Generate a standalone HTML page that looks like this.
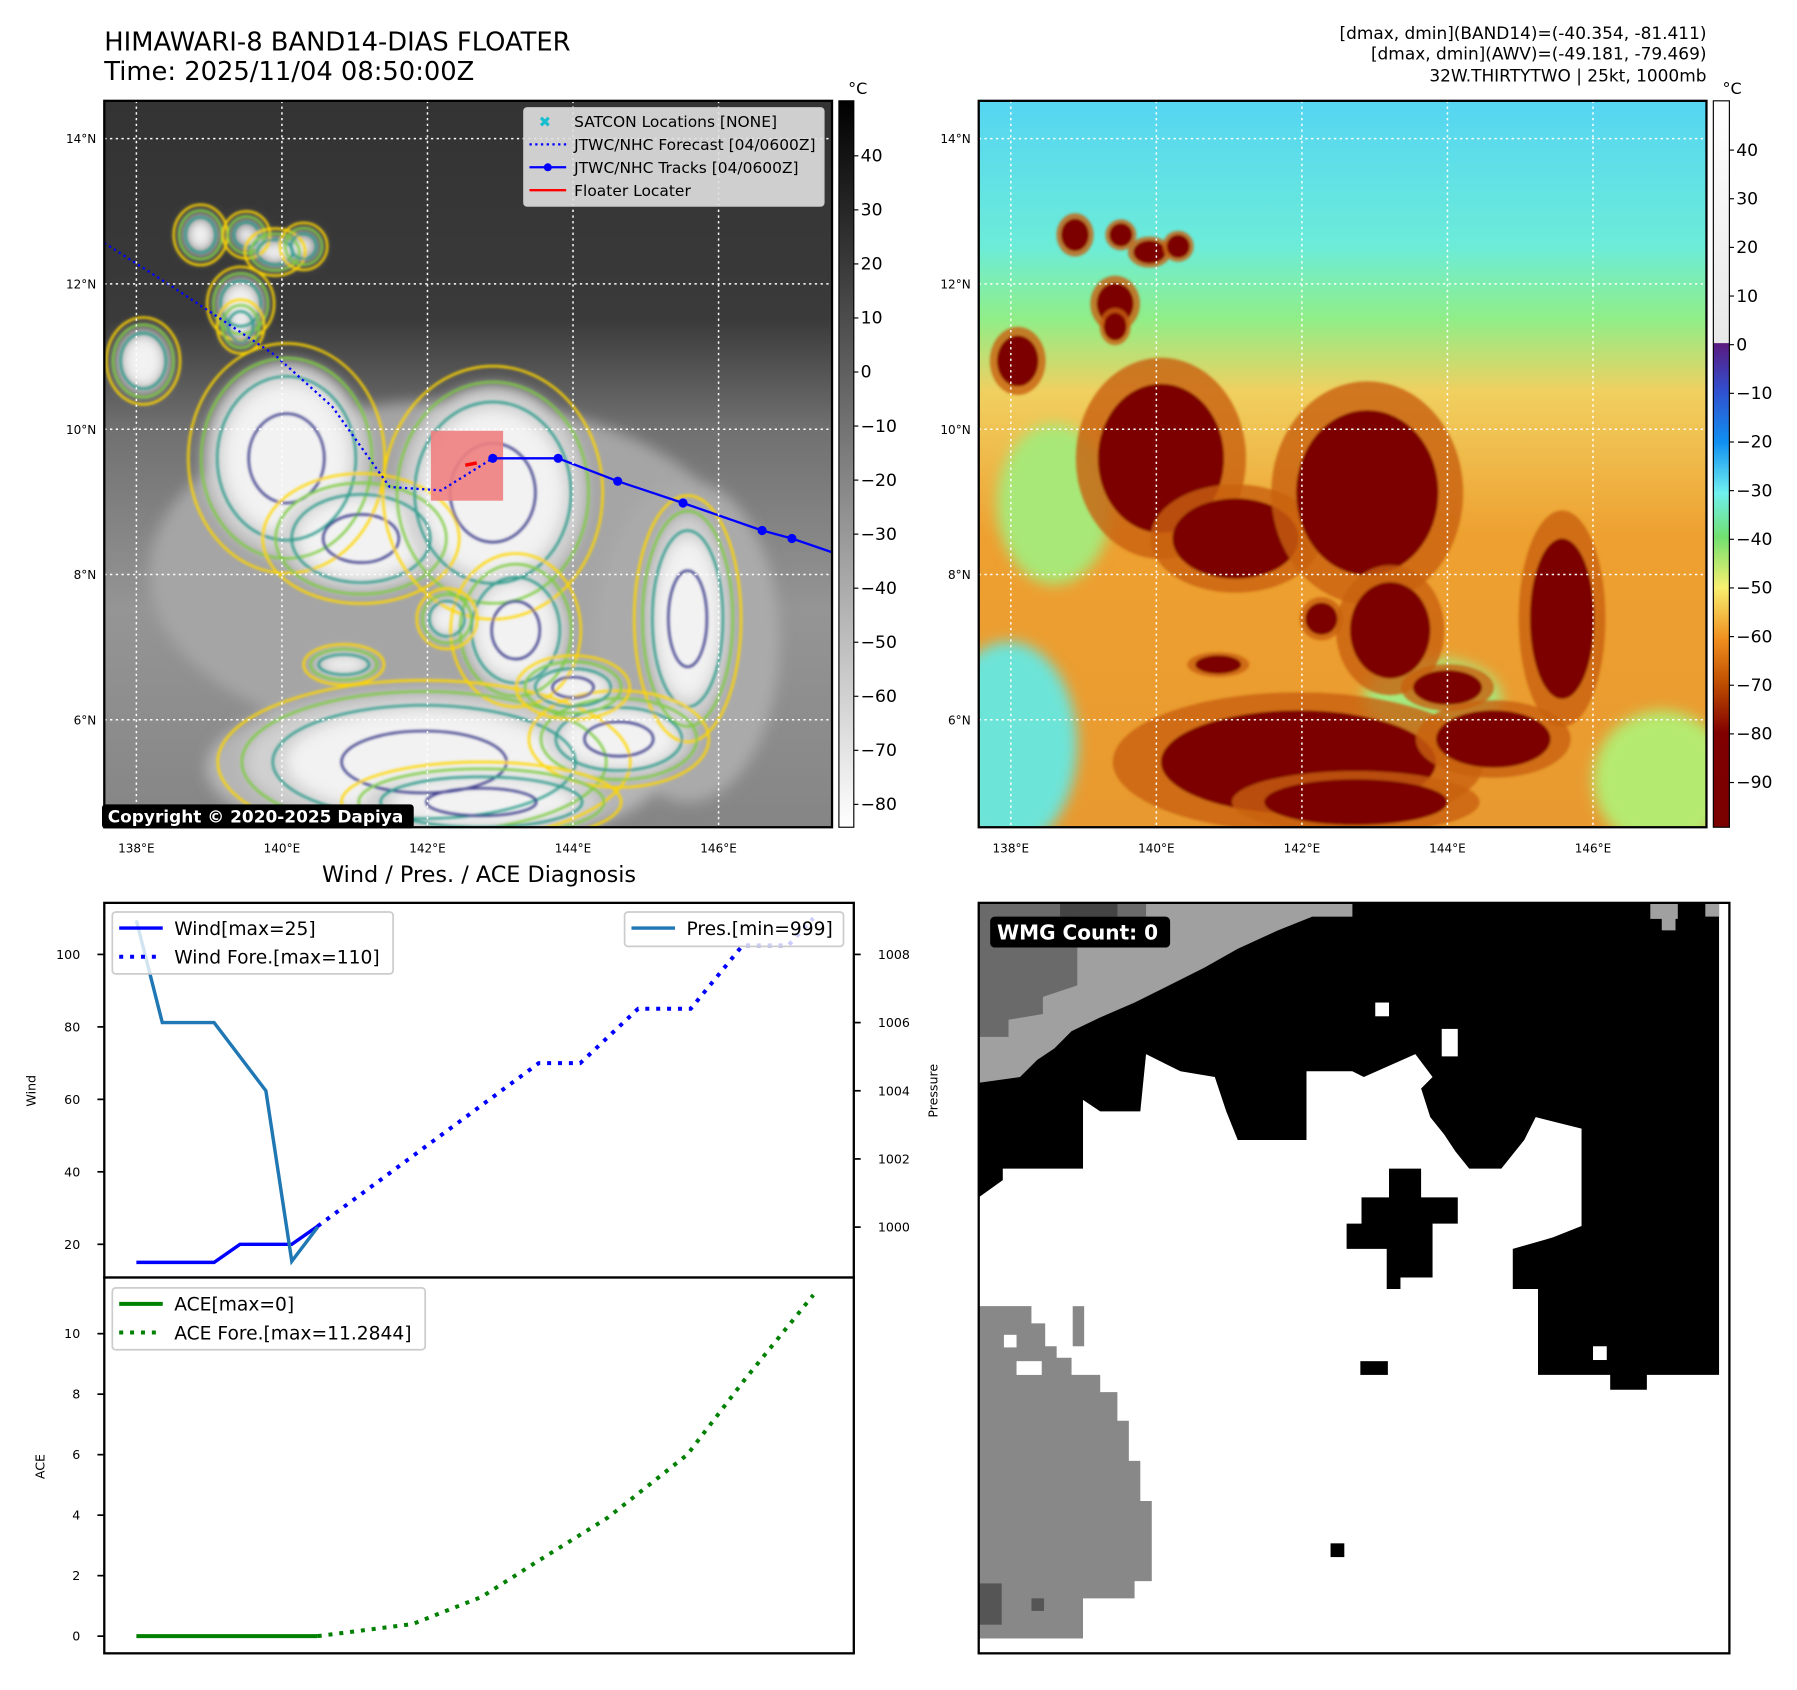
<!DOCTYPE html>
<html><head><meta charset="utf-8"><style>
html,body{margin:0;padding:0;background:#fff}
svg{display:block}
text{font-family:"DejaVu Sans","Liberation Sans",sans-serif}
</style></head><body>
<svg id="fig" width="1797" height="1690" viewBox="0 0 1568 1475" preserveAspectRatio="none" xmlns="http://www.w3.org/2000/svg">
<defs>
<filter id="blur6" x="-50%" y="-50%" width="200%" height="200%"><feGaussianBlur stdDeviation="6"/></filter>
<filter id="blur3" x="-50%" y="-50%" width="200%" height="200%"><feGaussianBlur stdDeviation="1.2"/></filter>
<clipPath id="clipL"><rect x="91" y="88" width="635" height="634"/></clipPath>
<clipPath id="clipR"><rect x="854" y="88" width="635" height="634"/></clipPath>
<linearGradient id="gL" x1="0" y1="0" x2="0" y2="1">
<stop offset="0" stop-color="#333"/><stop offset="0.3" stop-color="#3a3a3a"/><stop offset="0.45" stop-color="#707070"/><stop offset="0.7" stop-color="#959595"/><stop offset="1" stop-color="#858585"/></linearGradient>
<linearGradient id="gR" x1="0" y1="0" x2="0" y2="1">
<stop offset="0" stop-color="#55d5f2"/><stop offset="0.2" stop-color="#6cecd8"/><stop offset="0.3" stop-color="#90ee88"/><stop offset="0.4" stop-color="#f0d060"/><stop offset="0.6" stop-color="#eea030"/><stop offset="1" stop-color="#e89a30"/></linearGradient>
<linearGradient id="cbL" x1="0" y1="0" x2="0" y2="1"><stop offset="0" stop-color="#000"/><stop offset="1" stop-color="#fff"/></linearGradient>
<linearGradient id="cbR" x1="0" y1="0" x2="0" y2="1">
<stop offset="0" stop-color="#fff"/><stop offset="0.333" stop-color="#e8e8e8"/><stop offset="0.334" stop-color="#5a1a80"/><stop offset="0.4" stop-color="#3050d0"/><stop offset="0.47" stop-color="#1090f0"/><stop offset="0.54" stop-color="#70f0f0"/><stop offset="0.6" stop-color="#70e070"/><stop offset="0.67" stop-color="#f8f070"/><stop offset="0.74" stop-color="#f09020"/><stop offset="0.8" stop-color="#c05000"/><stop offset="0.87" stop-color="#800000"/><stop offset="1" stop-color="#7a0000"/></linearGradient>
</defs>

<text x="91" y="44" font-size="22.5">HIMAWARI-8 BAND14-DIAS FLOATER</text>
<text x="91" y="70" font-size="22.5">Time: 2025/11/04 08:50:00Z</text>
<g font-size="14.8" text-anchor="end">
<text x="1489" y="34">[dmax, dmin](BAND14)=(-40.354, -81.411)</text>
<text x="1489" y="52">[dmax, dmin](AWV)=(-49.181, -79.469)</text>
<text x="1489" y="71">32W.THIRTYTWO | 25kt, 1000mb</text>
</g>

<g clip-path="url(#clipL)">
<rect x="91" y="88" width="635" height="634" fill="url(#gL)"/>
<g id="cloudsL" filter="url(#blur6)"></g>
<g id="contoursL" fill="none" filter="url(#blur3)"></g>
<rect x="376" y="376" width="63" height="61" fill="#f08080" opacity="0.9"/>
<polyline points="91,212 150,250 240,310 290,355 340,425 385,428 430,400" fill="none" stroke="#0000ff" stroke-width="2" stroke-dasharray="2,3"/>
<polyline points="430,400 487,400 539,420 596,439 665,463 691,470 726,482" fill="none" stroke="#0000ff" stroke-width="2"/>
<g fill="#0000ff"><circle cx="430" cy="400" r="4"/><circle cx="487" cy="400" r="4"/><circle cx="539" cy="420" r="4"/><circle cx="596" cy="439" r="4"/><circle cx="665" cy="463" r="4"/><circle cx="691" cy="470" r="4"/></g>
<line x1="406" y1="406" x2="416" y2="404" stroke="#f00" stroke-width="3"/>
<g id="gridL" stroke="#fff" stroke-width="1.3" stroke-dasharray="2,3"></g>
</g>
<rect x="91" y="88" width="635" height="634" fill="none" stroke="#000" stroke-width="2"/>
<g>
<rect x="457" y="94" width="262" height="86" rx="3" fill="#e0e0e0" fill-opacity="0.9" stroke="#ccc"/>
<text x="470" y="111" font-size="13" fill="#17becf" font-weight="bold">✖</text>
<line x1="462" y1="126" x2="494" y2="126" stroke="#00f" stroke-width="2" stroke-dasharray="2,3"/>
<line x1="462" y1="146" x2="494" y2="146" stroke="#00f" stroke-width="2"/><circle cx="478" cy="146" r="3.5" fill="#00f"/>
<line x1="462" y1="166" x2="494" y2="166" stroke="#f00" stroke-width="2"/>
<g font-size="13.5"><text x="501" y="111">SATCON Locations [NONE]</text><text x="501" y="131">JTWC/NHC Forecast [04/0600Z]</text><text x="501" y="151">JTWC/NHC Tracks [04/0600Z]</text><text x="501" y="171">Floater Locater</text></g>
</g>
<rect x="89" y="702" width="272" height="21" rx="3" fill="#000"/>
<text x="94" y="718" font-size="14.8" font-weight="bold" fill="#fff">Copyright © 2020-2025 Dapiya</text>

<rect x="732" y="88" width="13" height="634" fill="url(#cbL)" stroke="#000" stroke-width="1"/>
<text x="740" y="82" font-size="14">°C</text>
<g id="cbLticks" font-size="15"></g>

<g clip-path="url(#clipR)">
<rect x="854" y="88" width="635" height="634" fill="url(#gR)"/>
<ellipse cx="880" cy="650" rx="60" ry="90" fill="#6de4d8" filter="url(#blur6)"/>
<ellipse cx="1450" cy="680" rx="60" ry="60" fill="#b5ea70" filter="url(#blur6)"/>
<ellipse cx="1250" cy="610" rx="60" ry="35" fill="#a5ea80" filter="url(#blur6)"/>
<ellipse cx="920" cy="440" rx="50" ry="70" fill="#a8e878" filter="url(#blur6)"/>
<g id="cloudsR" filter="url(#blur3)"></g>
<g id="gridR" stroke="#fff" stroke-width="1.3" stroke-dasharray="2,3"></g>
</g>
<rect x="854" y="88" width="635" height="634" fill="none" stroke="#000" stroke-width="2"/>
<rect x="1495" y="88" width="14" height="634" fill="url(#cbR)" stroke="#000" stroke-width="1"/>
<text x="1503" y="82" font-size="14">°C</text>
<g id="cbRticks" font-size="15"></g>

<g id="latlon" font-size="10.5"></g>

<text x="418" y="770" font-size="19.5" text-anchor="middle">Wind / Pres. / ACE Diagnosis</text>
<g id="windChart"></g>
<g id="aceChart"></g>

<g>
<rect x="854" y="788" width="655" height="655" fill="#fff"/>
<polygon fill="#a0a0a0" points="854,788 1180,788 1180,800 1145,800 1115,812 1080,828 1050,845 1020,860 990,875 960,888 935,900 920,915 905,925 890,940 854,945"/>
<polygon fill="#6a6a6a" points="854,788 1000,788 1000,800 940,800 940,860 910,870 910,885 880,890 880,905 854,905"/>
<rect x="925" y="788" width="50" height="12" fill="#444"/>
<polygon fill="#000" points="854,945 890,940 905,925 920,915 935,900 960,888 990,875 1020,860 1050,845 1080,828 1115,812 1145,800 1180,800 1180,788 1500,788 1500,1200 1437,1200 1437,1213 1405,1213 1405,1200 1342,1200 1342,1125 1320,1125 1320,1090 1355,1080 1380,1070 1380,985 1340,975 1330,995 1310,1020 1282,1020 1270,1005 1260,990 1248,975 1240,950 1250,940 1235,920 1190,940 1180,935 1140,935 1140,995 1080,995 1070,970 1060,940 1030,935 1000,920 995,970 960,970 945,960 945,1020 875,1020 875,1030 854,1045"/>
<rect x="1440" y="788" width="24" height="14" fill="#a0a0a0"/>
<rect x="1450" y="800" width="12" height="12" fill="#a0a0a0"/>
<rect x="1488" y="788" width="12" height="12" fill="#a0a0a0"/>
<polygon fill="#000" points="1212,1020 1240,1020 1240,1045 1272,1045 1272,1068 1250,1068 1250,1115 1222,1115 1222,1125 1210,1125 1210,1090 1175,1090 1175,1068 1188,1068 1188,1045 1212,1045"/>
<rect x="1200" y="875" width="12" height="12" fill="#fff"/>
<rect x="1258" y="898" width="14" height="24" fill="#fff"/>
<rect x="1390" y="1175" width="12" height="12" fill="#fff"/>
<rect x="1187" y="1188" width="24" height="12" fill="#000"/>
<rect x="1161" y="1347" width="12" height="12" fill="#000"/>
<polygon fill="#888" points="854,1140 900,1140 900,1155 912,1155 912,1175 922,1175 922,1185 935,1185 935,1200 960,1200 960,1215 975,1215 975,1240 985,1240 985,1275 995,1275 995,1310 1005,1310 1005,1380 990,1380 990,1395 945,1395 945,1430 854,1430"/>
<rect x="936" y="1140" width="10" height="35" fill="#888"/>
<rect x="876" y="1165" width="11" height="11" fill="#fff"/>
<rect x="887" y="1188" width="22" height="12" fill="#fff"/>
<rect x="854" y="1382" width="20" height="36" fill="#555"/>
<rect x="900" y="1395" width="11" height="11" fill="#555"/>
<rect x="854" y="788" width="655" height="655" fill="none" stroke="#000" stroke-width="2"/>
<rect x="864" y="800" width="157" height="27" rx="4" fill="#000"/>
<text x="870" y="820" font-size="17.5" font-weight="bold" fill="#fff">WMG Count: 0</text>
</g>
</svg>
<script>
const obsHours = [0, 3, 6, 9, 12, 15, 18, 21];
const windObs = [15, 15, 15, 15, 20, 20, 20, 25];
const presHours = [0, 3, 9, 15, 18, 21];
const presObs = [1009, 1006, 1006, 1004, 999, 1000];
const foreHours = [21, 46.6, 51.4, 58.1, 64.2, 70.2, 75.5, 78.4];
const windFore = [25, 70, 70, 85, 85, 102.5, 102.5, 110];
const aceObsHours = [0, 21];
const aceObs = [0, 0];
const aceForeHours = [21, 32, 40, 46.6, 54.5, 63.8, 70.5, 78.4];
const aceFore = [0, 0.4, 1.3, 2.5, 3.9, 6.0, 8.5, 11.28];
const windTicks = [20, 40, 60, 80, 100];
const presTicks = [1000, 1002, 1004, 1006, 1008];
const aceTicks = [0, 2, 4, 6, 8, 10];
const irTicks = [40, 30, 20, 10, 0, -10, -20, -30, -40, -50, -60, -70, -80];
const awvTicks = [40, 30, 20, 10, 0, -10, -20, -30, -40, -50, -60, -70, -80, -90];
const lonTicks = [138, 140, 142, 144, 146];
const latTicks = [14, 12, 10, 8, 6];

const NS = 'http://www.w3.org/2000/svg';
function mk(tag, attrs, parent, txt) {
  const e = document.createElementNS(NS, tag);
  for (const k in attrs) e.setAttribute(k, attrs[k]);
  if (txt !== undefined) e.textContent = txt;
  parent.appendChild(e);
  return e;
}
const X = h => 119 + h * 7.535;
const Yw = v => 833 + (100 - v) * 3.1625;
const Yp = p => 1071 - (p - 1000) * 29.75;
const Ya = a => 1428 - a * 26.4;
const lonX = l => 119 + (l - 138) * 63.5;
const latY = l => 121 + (14 - l) * 63.4;

const gL = document.getElementById('gridL'), gR = document.getElementById('gridR'), ll = document.getElementById('latlon');
lonTicks.forEach(l => {
  const x = lonX(l);
  mk('line', {x1: x, y1: 88, x2: x, y2: 722}, gL);
  mk('line', {x1: x + 763, y1: 88, x2: x + 763, y2: 722}, gR);
  let t = mk('text', {x: x, y: 744, 'text-anchor': 'middle'}, ll, l + '°E');
  
  
  t = mk('text', {x: x + 763, y: 744, 'text-anchor': 'middle'}, ll, l + '°E');
  
  
});
latTicks.forEach(l => {
  const y = latY(l);
  mk('line', {x1: 91, y1: y, x2: 726, y2: y}, gL);
  mk('line', {x1: 854, y1: y, x2: 1489, y2: y}, gR);
  let t = mk('text', {x: 84, y: y + 4, 'text-anchor': 'end'}, ll, l + '°N');
  
  
  t = mk('text', {x: 847, y: y + 4, 'text-anchor': 'end'}, ll, l + '°N');
  
  
});

const cbl = document.getElementById('cbLticks');
irTicks.forEach(v => {
  const y = 136 + (40 - v) * 4.717;
  mk('line', {x1: 745, y1: y, x2: 749, y2: y, stroke: '#000'}, cbl);
  const t = mk('text', {x: 751, y: y + 5}, cbl, v < 0 ? '\u2212' + (-v) : v);
  
  
});
const cbr = document.getElementById('cbRticks');
awvTicks.forEach(v => {
  const y = 131 + (40 - v) * 4.246;
  mk('line', {x1: 1509, y1: y, x2: 1513, y2: y, stroke: '#000'}, cbr);
  const t = mk('text', {x: 1515, y: y + 5}, cbr, v < 0 ? '\u2212' + (-v) : v);
  
  
});

const cells = [
  [250,400,55,65],[315,470,55,35],[430,430,62,72],[450,550,35,42],[390,540,14,14],
  [600,540,28,70],[370,665,120,45],[540,645,50,25],[125,315,18,22],[210,265,16,18],
  [175,205,12,14],[215,205,10,10],[240,220,14,10],[265,215,10,10],[210,285,10,12],
  [500,600,30,15],[420,700,80,20],[300,580,20,8]
];
const cl = document.getElementById('cloudsL'), cr = document.getElementById('cloudsR'), co = document.getElementById('contoursL');
mk('ellipse', {cx: 390, cy: 500, rx: 260, ry: 150, fill: '#a5a5a5'}, cl);
mk('ellipse', {cx: 600, cy: 560, rx: 80, ry: 140, fill: '#aaa'}, cl);
mk('ellipse', {cx: 380, cy: 670, rx: 200, ry: 70, fill: '#b5b5b5'}, cl);
cells.forEach(c => {
  mk('ellipse', {cx: c[0], cy: c[1], rx: c[2] * 1.3, ry: c[3] * 1.3, fill: '#d0d0d0'}, cl);
  mk('ellipse', {cx: c[0], cy: c[1], rx: c[2], ry: c[3], fill: '#f2f2f2'}, cl);
  mk('ellipse', {cx: c[0], cy: c[1], rx: c[2] * 1.45 + 6, ry: c[3] * 1.45 + 6, stroke: '#ffd700', 'stroke-width': 2}, co);
  mk('ellipse', {cx: c[0], cy: c[1], rx: c[2] * 1.3 + 3, ry: c[3] * 1.3 + 3, stroke: '#7ccc40', 'stroke-width': 2}, co);
  mk('ellipse', {cx: c[0], cy: c[1], rx: c[2] * 1.1, ry: c[3] * 1.1, stroke: '#2a9a8a', 'stroke-width': 2}, co);
  if (c[2] > 25) mk('ellipse', {cx: c[0], cy: c[1], rx: c[2] * 0.6, ry: c[3] * 0.6, stroke: '#3a3a8a', 'stroke-width': 2}, co);
  mk('ellipse', {cx: c[0] + 763, cy: c[1], rx: c[2] * 1.35, ry: c[3] * 1.35, fill: '#c86010', opacity: 0.8}, cr);
  mk('ellipse', {cx: c[0] + 763, cy: c[1], rx: c[2], ry: c[3], fill: '#7d0000'}, cr);
});

const wc = document.getElementById('windChart');
mk('rect', {x: 91, y: 788, width: 654, height: 327, fill: '#fff'}, wc);
function pathFrom(xs, ys) { return xs.map((h, i) => (i ? 'L' : 'M') + X(h).toFixed(1) + ',' + ys[i].toFixed(1)).join(' '); }
let p;
p = mk('path', {d: pathFrom(obsHours, windObs.map(Yw)), fill: 'none', stroke: '#0000ff', 'stroke-width': 3}, wc);


p = mk('path', {d: pathFrom(foreHours, windFore.map(Yw)), fill: 'none', stroke: '#0000ff', 'stroke-width': 3.5, 'stroke-dasharray': '3.5,6'}, wc);


p = mk('path', {d: pathFrom(presHours, presObs.map(Yp)), fill: 'none', stroke: '#1f77b4', 'stroke-width': 3}, wc);


mk('rect', {x: 91, y: 788, width: 654, height: 327, fill: 'none', stroke: '#000', 'stroke-width': 2}, wc);
windTicks.forEach(v => {
  const y = Yw(v);
  mk('line', {x1: 85, y1: y, x2: 91, y2: y, stroke: '#000', 'stroke-width': 1.5}, wc);
  const t = mk('text', {x: 70, y: y + 4, 'font-size': 11, 'text-anchor': 'end'}, wc, v);
  
  
});
presTicks.forEach(v => {
  const y = Yp(v);
  mk('line', {x1: 745, y1: y, x2: 751, y2: y, stroke: '#000', 'stroke-width': 1.5}, wc);
  const t = mk('text', {x: 766, y: y + 4, 'font-size': 11}, wc, v);
  
  
});
mk('text', {x: 31, y: 952, 'font-size': 11, 'text-anchor': 'middle', transform: 'rotate(-90 31 952)'}, wc, 'Wind');
mk('text', {x: 818, y: 952, 'font-size': 11, 'text-anchor': 'middle', transform: 'rotate(-90 818 952)'}, wc, 'Pressure');
mk('rect', {x: 98, y: 796, width: 245, height: 54, rx: 3, fill: '#fff', 'fill-opacity': 0.8, stroke: '#ccc', 'stroke-width': 1.5}, wc);
mk('line', {x1: 104, y1: 810, x2: 142, y2: 810, stroke: '#00f', 'stroke-width': 3}, wc);
mk('line', {x1: 104, y1: 835, x2: 142, y2: 835, stroke: '#00f', 'stroke-width': 3.5, 'stroke-dasharray': '3.5,6'}, wc);
mk('text', {x: 152, y: 816, 'font-size': 16.3}, wc, 'Wind[max=25]');
mk('text', {x: 152, y: 841, 'font-size': 16.3}, wc, 'Wind Fore.[max=110]');
mk('rect', {x: 545, y: 796, width: 191, height: 30, rx: 3, fill: '#fff', 'fill-opacity': 0.8, stroke: '#ccc', 'stroke-width': 1.5}, wc);
mk('line', {x1: 551, y1: 810, x2: 589, y2: 810, stroke: '#1f77b4', 'stroke-width': 3}, wc);
mk('text', {x: 599, y: 816, 'font-size': 16.3}, wc, 'Pres.[min=999]');

const ac = document.getElementById('aceChart');
mk('rect', {x: 91, y: 1115, width: 654, height: 328, fill: '#fff'}, ac);
p = mk('path', {d: pathFrom(aceObsHours, aceObs.map(Ya)), fill: 'none', stroke: '#008000', 'stroke-width': 3.5}, ac);


p = mk('path', {d: pathFrom(aceForeHours, aceFore.map(Ya)), fill: 'none', stroke: '#008000', 'stroke-width': 3.5, 'stroke-dasharray': '3.5,6'}, ac);


mk('rect', {x: 91, y: 1115, width: 654, height: 328, fill: 'none', stroke: '#000', 'stroke-width': 2}, ac);
aceTicks.forEach(v => {
  const y = Ya(v);
  mk('line', {x1: 85, y1: y, x2: 91, y2: y, stroke: '#000', 'stroke-width': 1.5}, ac);
  const t = mk('text', {x: 70, y: y + 4, 'font-size': 11, 'text-anchor': 'end'}, ac, v);
  
  
});
mk('text', {x: 39, y: 1280, 'font-size': 11, 'text-anchor': 'middle', transform: 'rotate(-90 39 1280)'}, ac, 'ACE');
mk('rect', {x: 98, y: 1124, width: 273, height: 54, rx: 3, fill: '#fff', 'fill-opacity': 0.8, stroke: '#ccc', 'stroke-width': 1.5}, ac);
mk('line', {x1: 104, y1: 1138, x2: 142, y2: 1138, stroke: '#008000', 'stroke-width': 3.5}, ac);
mk('line', {x1: 104, y1: 1163, x2: 142, y2: 1163, stroke: '#008000', 'stroke-width': 3.5, 'stroke-dasharray': '3.5,6'}, ac);
mk('text', {x: 152, y: 1144, 'font-size': 16.3}, ac, 'ACE[max=0]');
mk('text', {x: 152, y: 1169, 'font-size': 16.3}, ac, 'ACE Fore.[max=11.2844]');
</script>
</body></html>
